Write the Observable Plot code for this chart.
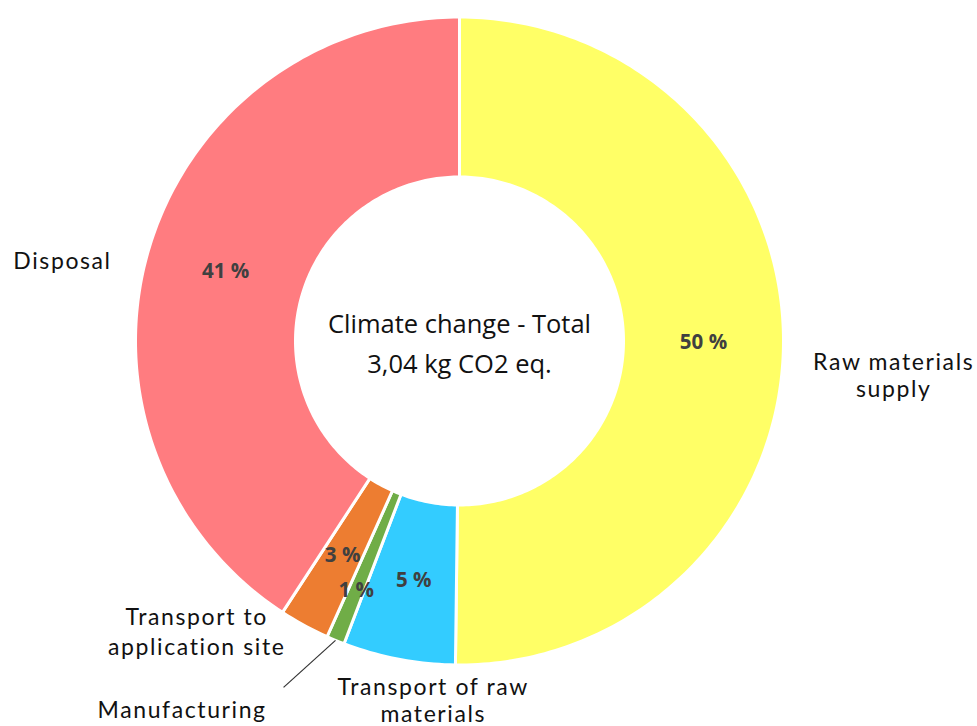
<!DOCTYPE html>
<html><head><meta charset="utf-8">
<script src="https://cdn.jsdelivr.net/npm/d3@7"></script>
<script src="https://cdn.jsdelivr.net/npm/@observablehq/plot@0.6"></script>
<style>
html,body{margin:0;padding:0;background:#fff;}
.cat text{letter-spacing:1.6px;}
</style></head><body><div id="chart"></div>
<script>
// ---- data ----
const categories = ["Raw materials supply", "Transport of raw materials", "Manufacturing", "Transport to application site", "Disposal"];
const shares = [50.2, 5.6, 0.9, 2.5, 40.8];
const shareLabels = ["50 %", "5 %", "1 %", "3 %", "41 %"];
const centerTitle = ["Climate change - Total", "3,04 kg CO2 eq."];
const colors = ["#FFFF66", "#33CCFF", "#70AD47", "#ED7D31", "#FF7C80"];

// outside category labels: one entry per text line (unit = outer radius)
const catLabelLines = [
  {text: "Raw materials", x: 1.340, y: -0.088, anchor: "middle"},
  {text: "supply", x: 1.340, y: -0.174, anchor: "middle"},
  {text: "Disposal", x: -1.377, y: 0.221, anchor: "start"},
  {text: "Transport to", x: -0.811, y: -0.878, anchor: "middle"},
  {text: "application site", x: -0.811, y: -0.968, anchor: "middle"},
  {text: "Manufacturing", x: -0.856, y: -1.165, anchor: "middle"},
  {text: "Transport of raw", x: -0.081, y: -1.092, anchor: "middle"},
  {text: "materials", x: -0.081, y: -1.175, anchor: "middle"}
];
const leaderStart = {x: -0.543, y: -1.069};

// ---- geometry ----
const R_OUT = 1, R_IN = 164 / 324, R_MID = (R_OUT + R_IN) / 2;
const total = d3.sum(shares);
let acc = 0;
const slices = categories.map((c, i) => {
  const a0 = acc / total * 2 * Math.PI; acc += shares[i];
  const a1 = acc / total * 2 * Math.PI;
  return {category: c, i, a0, a1, mid: (a0 + a1) / 2, label: shareLabels[i]};
});
const ringPts = [];
for (const s of slices) {
  const n = Math.max(2, Math.ceil((s.a1 - s.a0) / (Math.PI / 180)));
  const angles = d3.range(n + 1).map(k => s.a0 + (s.a1 - s.a0) * k / n);
  const pts = [];
  for (const a of angles) pts.push({category: s.category, x: Math.sin(a) * R_OUT, y: Math.cos(a) * R_OUT});
  for (const a of angles.slice().reverse()) pts.push({category: s.category, x: Math.sin(a) * R_IN, y: Math.cos(a) * R_IN});
  pts.push(pts[0]);
  ringPts.push(...pts);
}
const manuf = slices[2];
const leader = [{x1: leaderStart.x, y1: leaderStart.y, x2: Math.sin(manuf.mid) * R_OUT, y2: Math.cos(manuf.mid) * R_OUT}];

const W = 977, H = 726, CX = 459, CY = 340.5, RP = 324;
const chart = Plot.plot({
  width: W, height: H,
  margin: 0,
  x: {domain: [-CX / RP, (W - CX) / RP], range: [0, W], axis: null},
  y: {domain: [-(H - CY) / RP, CY / RP], range: [H, 0], axis: null},
  color: {domain: categories, range: colors},
  style: {background: "white", overflow: "visible"},
  marks: [
    Plot.line(ringPts, {x: "x", y: "y", z: "category", fill: "category", stroke: "white", strokeWidth: 3, curve: "linear"}),
    Plot.text(slices.filter(s => s.i !== 2), {
      x: s => Math.sin(s.mid) * R_MID, y: s => Math.cos(s.mid) * R_MID, text: "label",
      fontFamily: "Open Sans", fontWeight: "bold", fontSize: 20.5, fill: "#404040", lineAnchor: "middle"}),
    Plot.text(slices.filter(s => s.i === 2), {
      x: s => Math.sin(s.mid) * R_MID, y: s => Math.cos(s.mid) * R_MID, text: "label", dx: -10, dy: 24,
      fontFamily: "Open Sans", fontWeight: "bold", fontSize: 20.5, fill: "#404040", lineAnchor: "middle"}),
    Plot.text([centerTitle[0]], {x: () => 0, y: () => 0, text: d => d, dy: -8.5, lineAnchor: "bottom",
      fontFamily: "Open Sans", fontSize: 25.5, fill: "#111"}),
    Plot.text([centerTitle[1]], {x: () => 0, y: () => 0, text: d => d, dy: 31.5, lineAnchor: "bottom",
      fontFamily: "Open Sans", fontSize: 25.5, fill: "#111"}),
    Plot.text(catLabelLines.filter(d => d.anchor === "middle"), {x: "x", y: "y", text: "text", textAnchor: "middle", lineAnchor: "bottom",
      fontFamily: "Lato", fontSize: 23, fill: "#111", className: "cat"}),
    Plot.text(catLabelLines.filter(d => d.anchor === "start"), {x: "x", y: "y", text: "text", textAnchor: "start", lineAnchor: "bottom",
      fontFamily: "Lato", fontSize: 23, fill: "#111", className: "cat"}),
    Plot.link(leader, {x1: "x1", y1: "y1", x2: "x2", y2: "y2", stroke: "#333", strokeWidth: 1.2})
  ]
});
document.getElementById("chart").appendChild(chart);
</script></body></html>
